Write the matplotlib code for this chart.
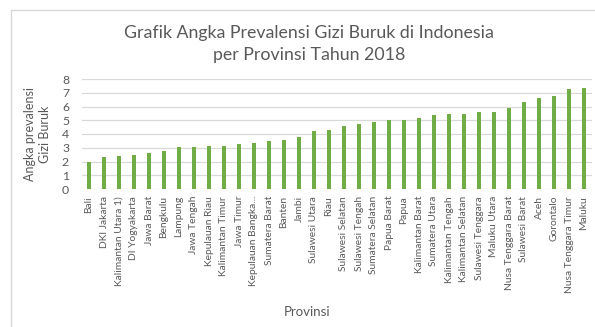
import matplotlib.pyplot as plt
from matplotlib.patches import Rectangle

# Prevalensi gizi buruk per provinsi (Riskesdas 2018)
provinsi = ['Bali', 'DKI Jakarta', 'Kalimantan Utara 1)', 'DI Yogyakarta', 'Jawa Barat',
            'Bengkulu', 'Lampung', 'Jawa Tengah', 'Kepulauan Riau', 'Kalimantan Timur',
            'Jawa Timur', 'Kepulauan Bangka...', 'Sumatera Barat', 'Banten', 'Jambi',
            'Sulawesi Utara', 'Riau', 'Sulawesi Selatan', 'Sulawesi Tengah', 'Sumatera Selatan',
            'Papua Barat', 'Papua', 'Kalimantan Barat', 'Sumatera Utara', 'Kalimantan Tengah',
            'Kalimantan Selatan', 'Sulawesi Tenggara', 'Maluku Utara', 'Nusa Tenggara Barat',
            'Sulawesi Barat', 'Aceh', 'Gorontalo', 'Nusa Tenggara Timur', 'Maluku']
prevalensi = [1.95, 2.3, 2.4, 2.45, 2.6, 2.8, 3.05, 3.05, 3.1, 3.1,
              3.3, 3.37, 3.5, 3.56, 3.78, 4.2, 4.27, 4.56, 4.75, 4.9,
              5.0, 5.0, 5.16, 5.38, 5.45, 5.45, 5.6, 5.6, 5.87, 6.3,
              6.64, 6.8, 7.27, 7.35]
y_ticks = list(range(0, 9))

plt.rcParams['font.family'] = ['Lato', 'DejaVu Sans']
teks = '#595959'
W, H = 595, 327

fig = plt.figure(figsize=(W / 100, H / 100), dpi=100)
ax = fig.add_axes([81.5 / W, 1 - 189 / H, 510 / W, 110 / H])

x = range(len(provinsi))
ax.bar(x, prevalensi, width=0.33, color='#70ad47', zorder=3)

ax.set_xlim(-0.5, len(provinsi) - 0.5)
ax.set_ylim(0, 8)
ax.set_yticks(y_ticks)
ax.set_xticks(list(x))
ax.set_xticklabels(provinsi, rotation=90, fontsize=7.4, color=teks)
ax.tick_params(axis='y', length=0, labelsize=8.8, labelcolor=teks, pad=9)
ax.tick_params(axis='x', length=0, pad=5)
ax.grid(axis='y', color='#d9d9d9', linewidth=0.9, zorder=0)
for s in ax.spines.values():
    s.set_visible(False)

ax.set_ylabel('Angka prevalensi\nGizi Buruk', fontsize=9, color=teks, labelpad=8,
              linespacing=1.3)
fig.text(307 / W, 1 - 312 / H, 'Provinsi', ha='center', va='center',
         fontsize=9.5, color=teks)
fig.text(309 / W, 1 - 44 / H, 'Grafik Angka Prevalensi Gizi Buruk di Indonesia\nper Provinsi Tahun 2018',
         ha='center', va='center', fontsize=12.8, color=teks, linespacing=1.4)

# bingkai chart
fig.patches.append(Rectangle((11 / W, -0.1), 1.2, 1 - 10 / H + 0.1,
                             transform=fig.transFigure, fill=False,
                             edgecolor='#d9d9d9', linewidth=1))

fig.savefig('out.png', dpi=100)
